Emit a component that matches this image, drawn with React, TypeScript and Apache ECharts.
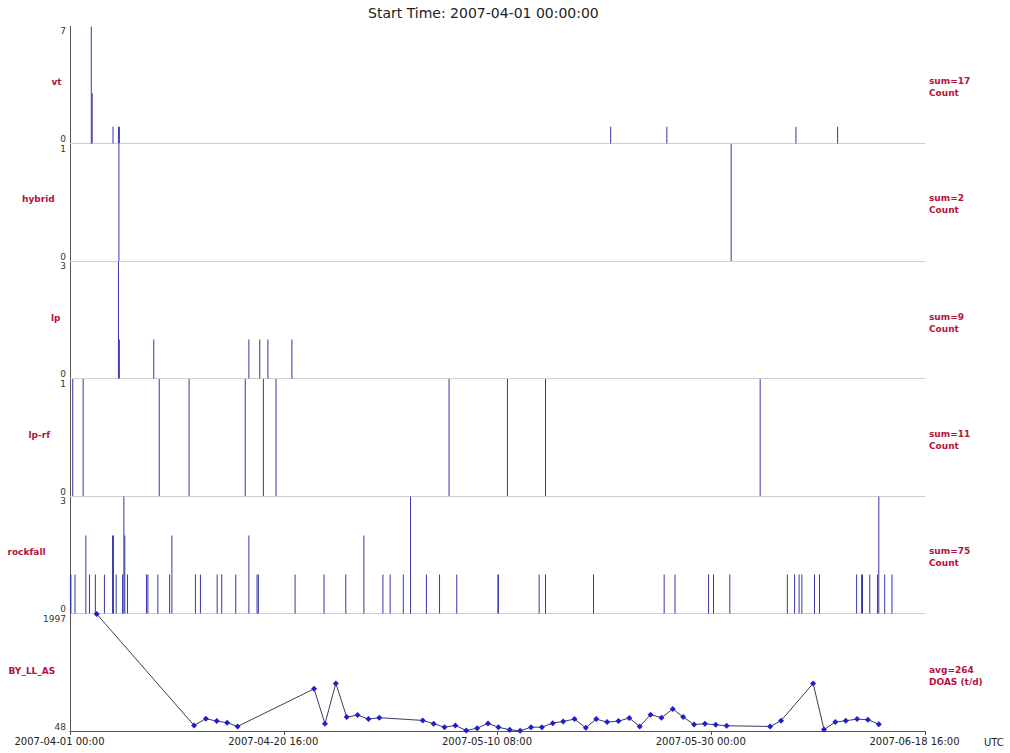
import { useEffect, useRef } from 'react';
import * as echarts from 'echarts';

// Time range and axis ticks (UTC)
const START = '2007-04-01 00:00';
const END = '2007-06-18 16:00';
const TICK_HOURS = 472; // spacing of the labelled time ticks

const PANEL_NAMES = ['vt', 'hybrid', 'lp', 'lp-rf', 'rockfall', 'BY_LL_AS'];
const PANEL_STATS = [
  ['sum=17', 'Count'],
  ['sum=2', 'Count'],
  ['sum=9', 'Count'],
  ['sum=11', 'Count'],
  ['sum=75', 'Count'],
  ['avg=264', 'DOAS (t/d)'],
];
const PANEL_MIN = [0, 0, 0, 0, 0, 48];
const PANEL_MAX = [7, 1, 3, 1, 3, 1997];

// Event counts per hour
const vtTimes = ['2007-04-02 23:00', '2007-04-03 01:00', '2007-04-04 23:00', '2007-04-05 11:00', '2007-04-05 13:00', '2007-05-20 18:00', '2007-05-25 22:00', '2007-06-06 19:00', '2007-06-10 15:00'];
const vtCounts = [7, 3, 1, 1, 1, 1, 1, 1, 1];

const hybridTimes = ['2007-04-05 12:00', '2007-05-31 20:00'];
const hybridCounts = [1, 1];

const lpTimes = ['2007-04-05 11:00', '2007-04-05 13:00', '2007-04-08 17:00', '2007-04-17 11:00', '2007-04-18 11:00', '2007-04-19 05:00', '2007-04-21 10:00'];
const lpCounts = [3, 1, 1, 1, 1, 1, 1];

const lprfTimes = ['2007-04-01 06:00', '2007-04-02 05:00', '2007-04-09 05:00', '2007-04-11 23:00', '2007-04-17 03:00', '2007-04-18 19:00', '2007-04-19 23:00', '2007-05-05 21:00', '2007-05-11 06:00', '2007-05-14 18:00', '2007-06-03 12:00'];
const lprfCounts = [1, 1, 1, 1, 1, 1, 1, 1, 1, 1, 1];

const rockfallTimes = [
  '2007-04-01 01:00', '2007-04-01 02:00', '2007-04-01 11:00', '2007-04-02 11:00', '2007-04-02 19:00', '2007-04-03 08:00',
  '2007-04-04 04:00', '2007-04-04 22:00', '2007-04-05 00:00', '2007-04-05 06:00', '2007-04-05 20:00', '2007-04-05 23:00',
  '2007-04-06 01:00', '2007-04-06 07:00', '2007-04-08 01:00', '2007-04-08 04:00', '2007-04-09 02:00', '2007-04-10 04:00',
  '2007-04-10 09:00', '2007-04-12 13:00', '2007-04-13 00:00', '2007-04-14 13:00', '2007-04-14 23:00', '2007-04-16 06:00',
  '2007-04-17 11:00', '2007-04-18 05:00', '2007-04-18 08:00', '2007-04-21 17:00', '2007-04-24 09:00', '2007-04-26 09:00',
  '2007-04-28 01:00', '2007-04-29 19:00', '2007-04-30 11:00', '2007-05-01 16:00', '2007-05-02 08:00', '2007-05-03 19:00',
  '2007-05-05 00:00', '2007-05-06 14:00', '2007-05-10 09:00', '2007-05-10 10:00', '2007-05-14 04:00', '2007-05-14 18:00',
  '2007-05-19 04:00', '2007-05-25 16:00', '2007-05-26 16:00', '2007-05-29 18:00', '2007-05-30 05:00', '2007-05-31 17:00',
  '2007-06-06 00:00', '2007-06-06 16:00', '2007-06-07 02:00', '2007-06-07 08:00', '2007-06-08 12:00', '2007-06-08 23:00',
  '2007-06-12 09:00', '2007-06-12 20:00', '2007-06-12 22:00', '2007-06-13 14:00', '2007-06-14 07:00', '2007-06-14 10:00',
  '2007-06-14 23:00', '2007-06-15 15:00',
];
const rockfallCounts = [
  1, 1, 1, 2, 1, 1,
  1, 2, 2, 1, 1, 3,
  2, 1, 1, 1, 1, 1,
  2, 1, 1, 1, 1, 1,
  2, 1, 1, 1, 1, 1,
  2, 1, 1, 1, 3, 1,
  1, 1, 1, 1, 1, 1,
  1, 1, 1, 1, 1, 1,
  1, 1, 1, 1, 1, 1,
  1, 1, 1, 1, 1, 3,
  1, 1,
];

// Daily SO2 flux, DOAS (t/d)
const doasTimes = [
  '2007-04-03 11:00', '2007-04-12 10:00', '2007-04-13 12:00', '2007-04-14 12:00', '2007-04-15 11:00', '2007-04-16 10:00',
  '2007-04-23 11:00', '2007-04-24 11:00', '2007-04-25 11:00', '2007-04-26 11:00', '2007-04-27 11:00', '2007-04-28 11:00',
  '2007-04-29 11:00', '2007-05-03 11:00', '2007-05-04 11:00', '2007-05-05 11:00', '2007-05-06 11:00', '2007-05-07 11:00',
  '2007-05-08 11:00', '2007-05-09 11:00', '2007-05-10 10:00', '2007-05-11 11:00', '2007-05-12 10:00', '2007-05-13 10:00',
  '2007-05-14 10:00', '2007-05-15 10:00', '2007-05-16 09:00', '2007-05-17 10:00', '2007-05-18 11:00', '2007-05-19 10:00',
  '2007-05-20 10:00', '2007-05-21 11:00', '2007-05-22 11:00', '2007-05-23 10:00', '2007-05-24 10:00', '2007-05-25 10:00',
  '2007-05-26 11:00', '2007-05-27 10:00', '2007-05-28 10:00', '2007-05-29 10:00', '2007-05-30 10:00', '2007-05-31 10:00',
  '2007-06-04 10:00', '2007-06-05 10:00', '2007-06-08 09:00', '2007-06-09 09:00', '2007-06-10 10:00', '2007-06-11 09:00',
  '2007-06-12 10:00', '2007-06-13 10:00', '2007-06-14 10:00',
];
const doasValues = [
  1997, 140, 253, 213, 186, 124,
  750, 169, 841, 280, 313, 246,
  270, 224, 169, 112, 140, 56,
  95, 174, 112, 68, 51, 112,
  112, 179, 208, 246, 102, 246,
  196, 213, 263, 124, 320, 270,
  414, 280, 157, 169, 152, 135,
  124, 219, 841, 73, 196, 219,
  246, 236, 162,
];

const BAR_SERIES = [
  [vtTimes, vtCounts],
  [hybridTimes, hybridCounts],
  [lpTimes, lpCounts],
  [lprfTimes, lprfCounts],
  [rockfallTimes, rockfallCounts],
];

const toMs = (s: string) =>
  Date.UTC(+s.slice(0, 4), +s.slice(5, 7) - 1, +s.slice(8, 10), +s.slice(11, 13), +s.slice(14, 16));
const HOUR = 3600 * 1000;
const START_MS = toMs(START);
// x positions are hours elapsed since the start time
const toHours = (s: string) => (toMs(s) - START_MS) / HOUR;
const pad = (n: number) => String(n).padStart(2, '0');
const fmtHours = (h: number) => {
  const d = new Date(START_MS + h * HOUR);
  return `${d.getUTCFullYear()}-${pad(d.getUTCMonth() + 1)}-${pad(d.getUTCDate())} ${pad(d.getUTCHours())}:${pad(d.getUTCMinutes())}`;
};

const FONT = '"DejaVu Sans", Verdana, sans-serif';
const LABEL_RED = '#b5123c';
const BAR_BLUE = '#3636a8';

// Layout of the stacked panels
const PLOT_LEFT = 70;
const PLOT_WIDTH = 855;
const PANEL_TOP0 = 26.5;
const PANEL_STEP = 117.5;
const PANEL_HEIGHT = 117;
const NAME_X = [51.5, 22, 51, 28.5, 7.5, 8.5];
const NAME_Y = [82, 199, 318, 435, 552, 671];
const STAT_X = 929;

export default function App() {
  const ref = useRef<HTMLDivElement>(null);

  useEffect(() => {
    if (!ref.current) return;
    const chart = echarts.init(ref.current, null, { renderer: 'svg' });
    const maxH = toHours(END);
    const n = PANEL_NAMES.length;

    const grid = PANEL_NAMES.map((_, i) => ({
      left: PLOT_LEFT,
      width: PLOT_WIDTH,
      top: PANEL_TOP0 + PANEL_STEP * i,
      height: PANEL_HEIGHT,
    }));

    const xAxis = PANEL_NAMES.map((_, i) => {
      const last = i === n - 1;
      return {
        type: 'value',
        gridIndex: i,
        min: 0,
        max: maxH,
        interval: TICK_HOURS,
        axisLine: { show: true, onZero: false, lineStyle: { color: last ? '#555' : '#cfcfcf', width: 1 } },
        axisTick: { show: last, length: 4, lineStyle: { color: '#555' } },
        axisLabel: {
          show: last,
          formatter: (v: number) => fmtHours(v),
          fontSize: 10,
          fontFamily: FONT,
          color: '#222',
          margin: 5,
          padding: [0, 21, 0, 0],
          showMinLabel: true,
          showMaxLabel: true,
          hideOverlap: false,
        },
        splitLine: { show: false },
      };
    });

    const yAxis = PANEL_NAMES.map((_, i) => ({
      type: 'value',
      gridIndex: i,
      min: PANEL_MIN[i],
      max: PANEL_MAX[i],
      axisLine: { show: true, lineStyle: { color: '#555', width: 1 } },
      axisTick: { show: false },
      axisLabel: {
        customValues: [PANEL_MIN[i], PANEL_MAX[i]],
        formatter: (v: number) => String(v),
        fontSize: 9,
        fontFamily: FONT,
        color: '#333',
        margin: 4,
        verticalAlignMinLabel: 'bottom',
        verticalAlignMaxLabel: 'top',
      },
      splitLine: { show: false },
    }));

    const series: any[] = BAR_SERIES.map(([times, vals], i) => ({
      type: 'bar',
      xAxisIndex: i,
      yAxisIndex: i,
      barWidth: 1,
      silent: true,
      itemStyle: { color: BAR_BLUE },
      data: (times as string[]).map((t, k) => [toHours(t), (vals as number[])[k]]),
    }));
    series.push({
      type: 'line',
      xAxisIndex: n - 1,
      yAxisIndex: n - 1,
      silent: true,
      symbol: 'diamond',
      symbolSize: 6,
      showAllSymbol: true,
      lineStyle: { color: '#3c3c5c', width: 1 },
      itemStyle: { color: '#1e1ed2' },
      data: doasTimes.map((t, k) => [toHours(t), doasValues[k]]),
    });

    const graphic: any[] = [];
    PANEL_NAMES.forEach((name, i) => {
      graphic.push({
        type: 'text',
        x: NAME_X[i],
        y: NAME_Y[i],
        style: { text: name, fill: LABEL_RED, font: `bold 9px ${FONT}`, verticalAlign: 'middle' },
      });
      graphic.push({
        type: 'text',
        x: STAT_X,
        y: NAME_Y[i] - 1,
        style: { text: PANEL_STATS[i][0], fill: LABEL_RED, font: `bold 9px ${FONT}`, verticalAlign: 'middle' },
      });
      graphic.push({
        type: 'text',
        x: STAT_X,
        y: NAME_Y[i] + 10.5,
        style: { text: PANEL_STATS[i][1], fill: LABEL_RED, font: `bold 9px ${FONT}`, verticalAlign: 'middle' },
      });
    });
    graphic.push({
      type: 'text',
      x: 984,
      y: 742,
      style: { text: 'UTC', fill: '#222', font: `10px ${FONT}`, verticalAlign: 'middle' },
    });

    chart.setOption({
      animation: false,
      backgroundColor: '#fff',
      title: {
        text: 'Start Time: 2007-04-01 00:00:00',
        left: 368,
        top: 6,
        padding: 0,
        textStyle: { fontSize: 14, fontWeight: 'normal', fontFamily: FONT, color: '#222' },
      },
      grid,
      xAxis,
      yAxis,
      series,
      graphic,
    });

    return () => chart.dispose();
  }, []);

  return (
    <div
      ref={ref}
      style={{ position: 'fixed', left: 0, top: 0, width: 1010, height: 753, background: '#fff' }}
    />
  );
}
